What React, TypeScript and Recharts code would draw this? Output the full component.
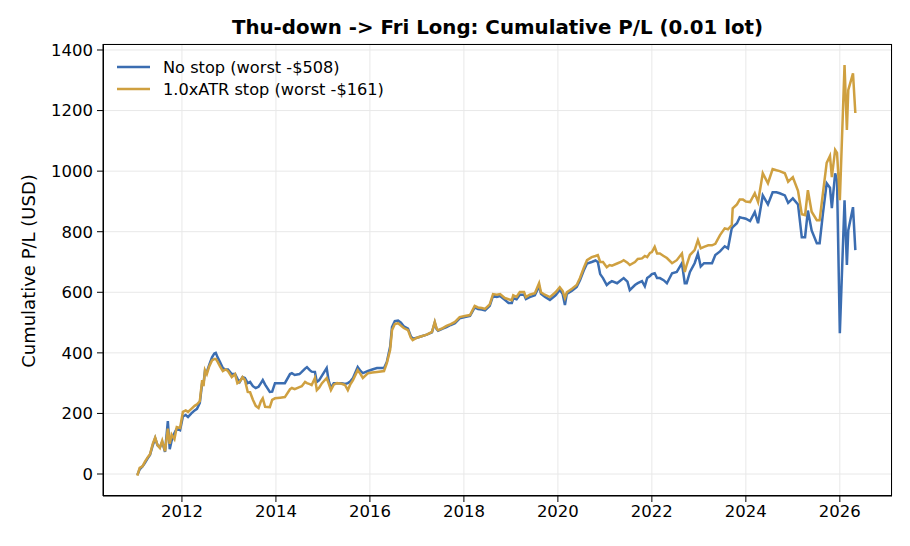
import { LineChart, Line, XAxis, YAxis, CartesianGrid } from 'recharts'

// fractional year of each closing point
const dates = [
  2011.05, 2011.1, 2011.16, 2011.21, 2011.27, 2011.32, 2011.38, 2011.43, 2011.48, 2011.53,
  2011.58, 2011.64, 2011.7, 2011.74, 2011.78, 2011.84, 2011.89, 2011.96, 2012.02, 2012.08,
  2012.13, 2012.2, 2012.27, 2012.32, 2012.38, 2012.43, 2012.46, 2012.49, 2012.53, 2012.58,
  2012.64, 2012.69, 2012.72, 2012.76, 2012.81, 2012.87, 2012.93, 2012.98, 2013.06, 2013.13,
  2013.18, 2013.23, 2013.29, 2013.34, 2013.4, 2013.45, 2013.51, 2013.57, 2013.63, 2013.68,
  2013.72, 2013.77, 2013.87, 2013.92, 2013.98, 2014.09, 2014.19, 2014.3, 2014.34, 2014.4,
  2014.5, 2014.55, 2014.62, 2014.66, 2014.72, 2014.76, 2014.83, 2014.87, 2014.92, 2014.98,
  2015.08, 2015.12, 2015.17, 2015.23, 2015.3, 2015.4, 2015.47, 2015.53, 2015.58, 2015.64,
  2015.74, 2015.8, 2015.85, 2015.96, 2016.05, 2016.15, 2016.3, 2016.36, 2016.43, 2016.47,
  2016.53, 2016.6, 2016.66, 2016.72, 2016.81, 2016.87, 2016.91, 2017.0, 2017.1, 2017.21,
  2017.32, 2017.38, 2017.42, 2017.45, 2017.55, 2017.63, 2017.72, 2017.81, 2017.91, 2018.02,
  2018.13, 2018.23, 2018.3, 2018.38, 2018.45, 2018.55, 2018.62, 2018.7, 2018.77, 2018.87,
  2018.95, 2019.02, 2019.05, 2019.12, 2019.19, 2019.28, 2019.32, 2019.4, 2019.51, 2019.6,
  2019.64, 2019.72, 2019.83, 2019.95, 2020.04, 2020.1, 2020.15, 2020.19, 2020.3, 2020.4,
  2020.47, 2020.55, 2020.62, 2020.72, 2020.8, 2020.85, 2020.9, 2020.96, 2021.04, 2021.1,
  2021.15, 2021.26, 2021.34, 2021.4, 2021.48, 2021.53, 2021.64, 2021.7, 2021.79, 2021.85,
  2021.9, 2021.96, 2022.0, 2022.06, 2022.11, 2022.17, 2022.25, 2022.32, 2022.43, 2022.53,
  2022.64, 2022.7, 2022.74, 2022.81, 2022.91, 2022.98, 2023.04, 2023.11, 2023.2, 2023.28,
  2023.35, 2023.45, 2023.55, 2023.62, 2023.7, 2023.72, 2023.81, 2023.87, 2023.94, 2024.0,
  2024.09, 2024.19, 2024.26, 2024.36, 2024.47, 2024.57, 2024.65, 2024.72, 2024.83, 2024.9,
  2025.0, 2025.11, 2025.19, 2025.26, 2025.32, 2025.4, 2025.51, 2025.57, 2025.64, 2025.72,
  2025.79, 2025.83, 2025.9, 2025.94, 2026.0, 2026.1, 2026.15, 2026.18, 2026.28, 2026.33,
]

const noStop = [
  -3, 15, 25, 36, 52, 63, 95, 118, 95, 88,
  106, 73, 175, 82, 110, 135, 150, 145, 190, 195,
  188, 200, 210, 215, 235, 300, 300, 340, 337, 360,
  385, 398, 400, 385, 370, 350, 345, 345, 330, 330,
  315, 304, 320, 317, 300, 304, 290, 284, 288, 300,
  310, 295, 271, 272, 300, 300, 300, 330, 333, 327,
  330, 337, 348, 353, 343, 338, 337, 304, 310, 325,
  350, 310, 284, 300, 300, 300, 297, 300, 305, 317,
  353, 340, 333, 340, 345, 350, 350, 370, 420, 485,
  505, 507, 500, 488, 480, 455, 447, 450, 455, 460,
  468, 500, 478, 473, 480, 485, 492, 498, 514, 518,
  522, 550, 545, 543, 540, 555, 588, 585, 588, 575,
  565, 565, 580, 577, 592, 592, 578, 584, 590, 620,
  595, 585, 575, 590, 608, 595, 558, 595, 605, 618,
  640, 672, 695, 700, 705, 700, 660, 647, 624, 632,
  637, 630, 640, 647, 635, 607, 624, 630, 637, 620,
  647, 654, 660, 663, 647, 647, 640, 630, 663, 667,
  696, 630, 630, 667, 696, 728, 685, 696, 696, 696,
  723, 735, 752, 745, 811, 815, 828, 848, 845, 843,
  835, 865, 828, 920, 890, 930, 930, 927, 920, 895,
  910, 890, 782, 782, 870, 804, 762, 762, 860, 960,
  945, 878, 993, 970, 465, 904, 690, 805, 881, 739,
]

const atrStop = [
  -5, 20, 25, 40, 55, 65, 100, 120, 95, 86,
  110, 75, 150, 100, 130, 115, 155, 152, 205, 210,
  205, 215, 225, 230, 240, 310, 290, 343, 330, 355,
  375, 380, 380, 370, 355, 340, 345, 340, 320, 330,
  300, 305, 320, 310, 271, 270, 245, 225, 218, 240,
  250, 222, 221, 245, 250, 252, 254, 280, 284, 280,
  287, 290, 304, 300, 297, 294, 317, 277, 285, 300,
  317, 300, 277, 295, 300, 298, 294, 277, 295, 310,
  343, 330, 317, 333, 335, 337, 340, 366, 409, 475,
  495, 498, 490, 482, 475, 450, 442, 450, 455, 460,
  469, 502, 480, 475, 482, 489, 495, 502, 518, 522,
  525, 555, 550, 548, 545, 560, 594, 592, 594, 581,
  577, 574, 590, 585, 601, 601, 584, 592, 597, 630,
  600, 592, 584, 600, 617, 605, 581, 600, 612, 624,
  647, 680, 706, 716, 720, 723, 700, 700, 683, 690,
  688, 695, 700, 706, 698, 690, 700, 710, 712, 720,
  716, 730, 733, 750, 728, 728, 720, 713, 696, 706,
  728, 667, 690, 723, 739, 772, 745, 750, 755, 755,
  760, 789, 811, 808, 822, 877, 890, 906, 906, 900,
  898, 927, 898, 993, 960, 1007, 1003, 1000, 993, 965,
  980, 935, 858, 855, 937, 866, 838, 838, 927, 1027,
  1050, 980, 1070, 1060, 904, 1350, 1136, 1268, 1323, 1192,
]

const xTicks = [2012, 2014, 2016, 2018, 2020, 2022, 2024, 2026]
const yTicks = [0, 200, 400, 600, 800, 1000, 1200, 1400]

const seriesNames = ['No stop (worst -$508)', '1.0xATR stop (worst -$161)']
const BLUE = '#3b6db1'
const GOLD = '#cfa040'
const FONT = '"DejaVu Sans", sans-serif'

const rows = dates.map((d, i) => ({ t: d, noStop: noStop[i], atrStop: atrStop[i] }))

// legend drawn over the plot, top-left, no frame (like matplotlib frameon=False)
function LegendBox() {
  const items = [
    { name: seriesNames[0], color: BLUE },
    { name: seriesNames[1], color: GOLD },
  ]
  return (
    <div
      style={{
        position: 'absolute', left: 117, top: 56, fontFamily: FONT, fontSize: 16.2,
        color: '#000', pointerEvents: 'none',
      }}
    >
      {items.map((it) => (
        <div key={it.name} style={{ display: 'flex', alignItems: 'center', height: 22 }}>
          <svg width={33} height={10} style={{ marginRight: 13 }}>
            <line x1={0} y1={5} x2={33} y2={5} stroke={it.color} strokeWidth={2.5} />
          </svg>
          <span>{it.name}</span>
        </div>
      ))}
    </div>
  )
}

export default function App() {
  const tick = { fontSize: 16.5, fill: '#000', fontFamily: FONT }
  return (
    <div style={{ position: 'absolute', left: 0, top: 0, width: 910, height: 546, background: '#fff' }}>
      <div
        style={{
          position: 'absolute', left: 103, width: 789, top: 16, textAlign: 'center',
          fontFamily: FONT, fontWeight: 'bold', fontSize: 19.8, color: '#000',
        }}
      >
        Thu-down -&gt; Fri Long: Cumulative P/L (0.01 lot)
      </div>
      <div
        style={{
          position: 'absolute', left: 28, top: 271, transform: 'translate(-50%, -50%) rotate(-90deg)',
          whiteSpace: 'nowrap', fontFamily: FONT, fontSize: 18, color: '#000',
        }}
      >
        Cumulative P/L (USD)
      </div>
      <LineChart width={910} height={546} data={rows} margin={{ top: 44, right: 18, bottom: 0, left: 0 }}>
        <CartesianGrid stroke="#e8e8e8" strokeWidth={1} />
        <XAxis
          dataKey="t"
          type="number"
          domain={[2010.32, 2027.11]}
          ticks={xTicks}
          height={50}
          tick={tick}
          tickSize={6}
          tickMargin={3}
          stroke="#000"
          allowDataOverflow
        />
        <YAxis
          type="number"
          domain={[-72.6, 1419.8]}
          ticks={yTicks}
          width={103}
          tick={tick}
          tickSize={6}
          tickMargin={4}
          stroke="#000"
          allowDataOverflow
        />
        <Line
          type="linear"
          dataKey="noStop"
          name={seriesNames[0]}
          stroke={BLUE}
          strokeWidth={2.5}
          dot={false}
          isAnimationActive={false}
        />
        <Line
          type="linear"
          dataKey="atrStop"
          name={seriesNames[1]}
          stroke={GOLD}
          strokeWidth={2.5}
          dot={false}
          isAnimationActive={false}
        />
      </LineChart>
      <LegendBox />
      <div
        style={{
          position: 'absolute', left: 103, top: 44, width: 789, height: 452,
          border: '1px solid #000', boxSizing: 'border-box', pointerEvents: 'none',
        }}
      />
    </div>
  )
}
